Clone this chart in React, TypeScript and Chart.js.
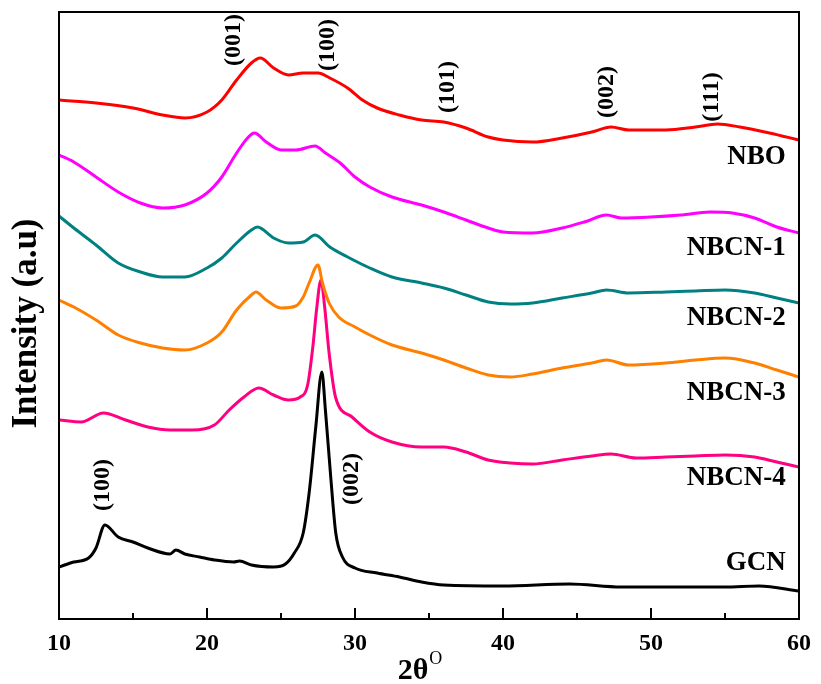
import React, { useEffect, useRef } from "react";
import { Chart, registerables } from "chart.js";

Chart.register(...registerables);

// 2-theta positions and intensities (a.u., stacked as in the figure)
const nboX = [10, 12.5, 15, 17, 18.5, 20, 21, 22, 23, 23.6, 24.5, 25.5, 26.5, 27.5, 28.3, 29.5, 30.5, 31.5, 33, 34.5, 36, 37.5, 39, 40, 42, 44, 46, 47.3, 48.5, 51, 53, 54.5, 56, 58, 60];
const nboY = [500, 497, 492, 485, 482, 488, 500, 520, 537, 542, 532, 525, 527, 527, 522, 512, 500, 492, 485, 480, 478, 472, 463, 460, 458, 462, 468, 473, 470, 470, 473, 476, 473, 467, 460];

const nbcn1X = [10, 11, 12.5, 14, 15.5, 17, 18.5, 20, 21, 22, 22.8, 23.2, 24, 25, 26, 27.3, 28, 29, 30, 31, 32.5, 34.5, 36, 37.5, 39, 40, 42, 44, 45.5, 47, 48, 50, 52, 54, 55.5, 57, 58.5, 60];
const nbcn1Y = [445, 438, 423, 408, 397, 392, 395, 407, 423, 447, 463, 467, 458, 450, 450, 454, 447, 437, 423, 413, 403, 395, 388, 380, 372, 368, 367, 372, 378, 385, 382, 383, 385, 388, 387, 382, 373, 367];

const nbcn2X = [10, 11, 12.5, 14, 15.5, 17, 18.5, 20, 21, 22, 23, 23.4, 24.5, 25.5, 26.5, 27.3, 28.3, 29.5, 31, 32.5, 34.5, 36, 37.5, 39, 40.5, 42, 44, 46, 47, 48.5, 51, 53, 55, 57, 58.5, 60];
const nbcn2Y = [384, 372, 355, 337, 328, 323, 323, 332, 342, 357, 370, 373, 362, 357, 358, 365, 353, 343, 332, 323, 317, 312, 305, 298, 296, 297, 302, 307, 310, 307, 308, 309, 310, 307, 302, 297];

const nbcn3X = [10, 11, 12.5, 14, 15.5, 17, 18.5, 20, 21, 22, 23, 23.3, 24, 25, 26, 26.5, 26.9, 27.5, 27.8, 28.25, 28.9, 30, 31, 32.5, 34.5, 36, 37.5, 39, 40.5, 42, 44, 46, 47, 48.5, 51, 53, 55, 57, 58.5, 60];
const nbcn3Y = [300, 293, 280, 265, 257, 252, 250, 257, 268, 290, 305, 308, 300, 292, 294, 303, 317, 335, 317, 297, 283, 273, 265, 255, 247, 240, 232, 225, 223, 226, 232, 237, 240, 235, 237, 240, 242, 237, 230, 223];

const nbcn4X = [10, 11.5, 13, 14.5, 16, 17.5, 19, 20.5, 21.5, 22.5, 23.5, 24.5, 25.5, 26.3, 26.8, 27.15, 27.4, 27.7, 27.95, 28.25, 28.7, 29.8, 31, 32.5, 34.5, 36, 37.5, 39, 40.5, 42, 44, 46, 47.3, 49, 51, 53, 55, 57, 58.5, 60];
const nbcn4Y = [180, 178, 187, 180, 173, 170, 170, 175, 190, 203, 212, 205, 200, 203, 215, 253, 290, 320, 293, 247, 202, 183, 168, 158, 153, 153, 148, 140, 137, 136, 140, 144, 146, 142, 143, 144, 145, 143, 138, 133];

const gcnX = [10, 11, 12, 12.5, 13.1, 14, 15, 16, 17.5, 17.9, 18.5, 19.5, 20.5, 21.8, 22.2, 23, 24.5, 25.3, 25.9, 26.5, 26.9, 27.35, 27.76, 28.0, 28.36, 28.7, 29.15, 30, 31.5, 33, 34.5, 36, 40, 44.5, 48, 52, 55, 57.3, 60];
const gcnY = [33, 38, 42, 52, 75, 63, 58, 52, 46, 50, 46, 43, 40, 38, 39, 35, 33, 36, 47, 67, 107, 173, 228, 190, 123, 67, 43, 32, 27, 23, 18, 15, 14, 16, 13, 13, 13, 14, 9];

const seriesNames = ["NBO", "NBCN-1", "NBCN-2", "NBCN-3", "NBCN-4", "GCN"];
const seriesColors = ["#ff0000", "#ff00ff", "#008080", "#ff8000", "#ff0080", "#000000"];
const seriesXs = [nboX, nbcn1X, nbcn2X, nbcn3X, nbcn4X, gcnX];
const seriesYs = [nboY, nbcn1Y, nbcn2Y, nbcn3Y, nbcn4Y, gcnY];
const nameLabelX = 59.1;
const nameLabelY = [443, 352, 282, 207, 122, 37];

const peakLabels = ["(001)", "(100)", "(101)", "(002)", "(111)", "(100)", "(002)"];
const peakX = [21.8, 28.14, 36.3, 47.0, 54.1, 12.95, 29.8];
const peakY = [560, 555, 513, 508, 503, 115, 121];

const xMajorTicks = [10, 20, 30, 40, 50, 60];
const xMinorTicks = [15, 25, 35, 45, 55];

const SERIF = "'Liberation Serif', 'Times New Roman', serif";

const decorPlugin = {
  id: "decor",
  afterDatasetsDraw(chart: any) {
    const { ctx, chartArea, scales } = chart;
    const xs = scales.x;
    const ys = scales.y;
    const { left, right, top, bottom } = chartArea;
    ctx.save();
    // frame
    ctx.strokeStyle = "#000";
    ctx.lineWidth = 2;
    ctx.strokeRect(left, top, right - left, bottom - top);
    // inward ticks
    ctx.lineWidth = 2;
    ctx.beginPath();
    xMajorTicks.forEach((v) => {
      const px = xs.getPixelForValue(v);
      ctx.moveTo(px, bottom);
      ctx.lineTo(px, bottom - 11);
    });
    xMinorTicks.forEach((v) => {
      const px = xs.getPixelForValue(v);
      ctx.moveTo(px, bottom);
      ctx.lineTo(px, bottom - 6);
    });
    ctx.stroke();

    // series names
    ctx.fillStyle = "#000";
    ctx.font = `bold 27px ${SERIF}`;
    ctx.textAlign = "right";
    ctx.textBaseline = "middle";
    seriesNames.forEach((n, i) => {
      ctx.fillText(n, xs.getPixelForValue(nameLabelX), ys.getPixelForValue(nameLabelY[i]));
    });

    // peak labels (rotated)
    ctx.font = `bold 24px ${SERIF}`;
    ctx.textAlign = "center";
    ctx.textBaseline = "middle";
    peakLabels.forEach((t, i) => {
      ctx.save();
      ctx.translate(xs.getPixelForValue(peakX[i]), ys.getPixelForValue(peakY[i]));
      ctx.rotate(-Math.PI / 2);
      ctx.fillText(t, 0, 0);
      ctx.restore();
    });

    // y-axis title
    ctx.save();
    ctx.font = `bold 35px ${SERIF}`;
    ctx.translate(27, (top + bottom) / 2 + 8);
    ctx.rotate(-Math.PI / 2);
    ctx.textAlign = "center";
    ctx.textBaseline = "middle";
    ctx.fillText("Intensity (a.u)", 0, 0);
    ctx.restore();

    // x-axis title 2θ^O
    ctx.font = `bold 30px ${SERIF}`;
    ctx.textAlign = "left";
    ctx.textBaseline = "alphabetic";
    const main = "2θ";
    const w = ctx.measureText(main).width;
    const cx = (left + right) / 2 - 10;
    ctx.fillText(main, cx - w / 2 - 6, 679);
    ctx.font = `18px ${SERIF}`;
    ctx.fillText("O", cx + w / 2 - 5, 664);
    ctx.restore();
  },
};

export default function App() {
  const ref = useRef<HTMLCanvasElement | null>(null);
  useEffect(() => {
    if (!ref.current) return;
    const chart = new Chart(ref.current, {
      type: "line",
      data: {
        datasets: seriesNames.map((n, i) => ({
          label: n,
          data: seriesXs[i].map((x, j) => ({ x, y: seriesYs[i][j] })),
          borderColor: seriesColors[i],
          backgroundColor: seriesColors[i],
          borderWidth: 3,
          pointRadius: 0,
          fill: false,
          cubicInterpolationMode: "monotone" as const,
        })),
      },
      options: {
        animation: false,
        responsive: false,
        devicePixelRatio: 1,
        layout: { padding: { top: 12, right: 15, left: 0, bottom: 0 } },
        plugins: { legend: { display: false }, tooltip: { enabled: false } },
        scales: {
          x: {
            type: "linear",
            min: 10,
            max: 60,
            grid: { display: false, drawTicks: false },
            border: { display: false },
            ticks: {
              stepSize: 10,
              color: "#000",
              padding: 10,
              maxRotation: 0,
              font: { family: SERIF, size: 24, weight: "bold" },
            },
            afterFit: (s: any) => {
              s.height = 65;
            },
          },
          y: {
            type: "linear",
            min: -19,
            max: 588,
            grid: { display: false, drawTicks: false },
            border: { display: false },
            ticks: { display: false },
            afterFit: (s: any) => {
              s.width = 59;
            },
          },
        },
      } as any,
      plugins: [decorPlugin],
    });
    return () => chart.destroy();
  }, []);
  return (
    <div style={{ position: "absolute", left: 0, top: 0, width: 821, height: 684, background: "#fff" }}>
      <canvas ref={ref} width={821} height={684} />
    </div>
  );
}
